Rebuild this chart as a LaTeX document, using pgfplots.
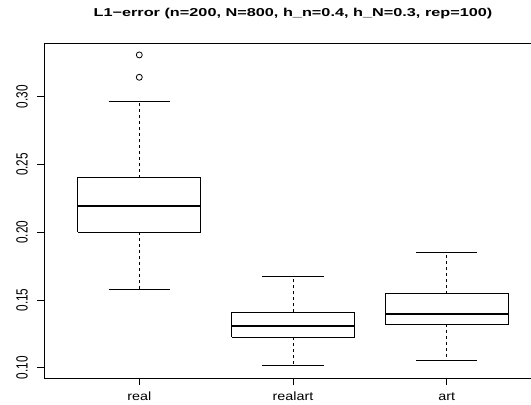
\documentclass[border=0pt]{standalone}
\usepackage{fontspec}
\setmainfont{Liberation Sans}
\usepackage{graphicx}
\usepackage{pgfplots}
\pgfplotsset{compat=1.18}
\newcommand\yl[1]{\scalebox{1}[1.38]{#1}}
\newcommand\xl[1]{\scalebox{1.2}[1]{#1}}
\begin{document}
\begin{tikzpicture}
\begin{axis}[
  at={(44bp,27bp)}, anchor=south west,
  scale only axis, width=498bp, height=335bp,
  xmin=0.38, xmax=3.62, ymin=0.0924, ymax=0.3396,
  axis line style={line width=0.8bp},
  xtick={1,2,3}, xticklabels={\xl{real},\xl{realart},\xl{art}},
  ytick={0.10,0.15,0.20,0.25,0.30},
  yticklabels={\yl{0.10},\yl{0.15},\yl{0.20},\yl{0.25},\yl{0.30}},
  tick pos=left, tick align=outside, major tick length=7bp,
  tick style={line width=0.8bp, black},
  xticklabel style={font=\fontsize{12}{12}\selectfont, anchor=base, inner sep=0pt, yshift=-15bp},
  yticklabel style={font=\fontsize{11.8}{12}\selectfont, xshift=-9bp, rotate=90, anchor=south, inner sep=0pt},
  title={\scalebox{1.42}[1]{\fontsize{11.5}{12}\selectfont\bfseries L1\textminus error (n=200, N=800, h\_n=0.4, h\_N=0.3, rep=100)}},
  title style={at={(0.5,1)}, anchor=base, yshift=20.7bp, inner sep=0pt},
  box/.style={black, line width=0.8bp, mark=none},
  med/.style={black, line width=2.2bp, mark=none},
  whisk/.style={black, line width=0.8bp, dash pattern=on 3bp off 3bp, mark=none},
]
% ---- real ----
\addplot[box] coordinates {(0.6,0.2000) (1.4,0.2000) (1.4,0.2402) (0.6,0.2402) (0.6,0.2000)};
\addplot[med] coordinates {(0.6,0.2196) (1.4,0.2196)};
\addplot[whisk] coordinates {(1,0.2402) (1,0.2963)};
\addplot[whisk] coordinates {(1,0.2000) (1,0.1581)};
\addplot[box] coordinates {(0.8,0.2963) (1.2,0.2963)};
\addplot[box] coordinates {(0.8,0.1581) (1.2,0.1581)};
\addplot[only marks, mark=o, mark size=3bp, mark options={black, line width=0.8bp}] coordinates {(1,0.3308) (1,0.3143)};
% ---- realart ----
\addplot[box] coordinates {(1.6,0.1224) (2.4,0.1224) (2.4,0.1409) (1.6,0.1409) (1.6,0.1224)};
\addplot[med] coordinates {(1.6,0.1310) (2.4,0.1310)};
\addplot[whisk] coordinates {(2,0.1409) (2,0.1677)};
\addplot[whisk] coordinates {(2,0.1224) (2,0.1018)};
\addplot[box] coordinates {(1.8,0.1677) (2.2,0.1677)};
\addplot[box] coordinates {(1.8,0.1018) (2.2,0.1018)};
% ---- art ----
\addplot[box] coordinates {(2.6,0.1322) (3.4,0.1322) (3.4,0.1546) (2.6,0.1546) (2.6,0.1322)};
\addplot[med] coordinates {(2.6,0.1398) (3.4,0.1398)};
\addplot[whisk] coordinates {(3,0.1546) (3,0.1852)};
\addplot[whisk] coordinates {(3,0.1322) (3,0.1052)};
\addplot[box] coordinates {(2.8,0.1852) (3.2,0.1852)};
\addplot[box] coordinates {(2.8,0.1052) (3.2,0.1052)};
\end{axis}
\pgfresetboundingbox
\path[use as bounding box] (0,0) rectangle (531bp,405bp);
\end{tikzpicture}
\end{document}
